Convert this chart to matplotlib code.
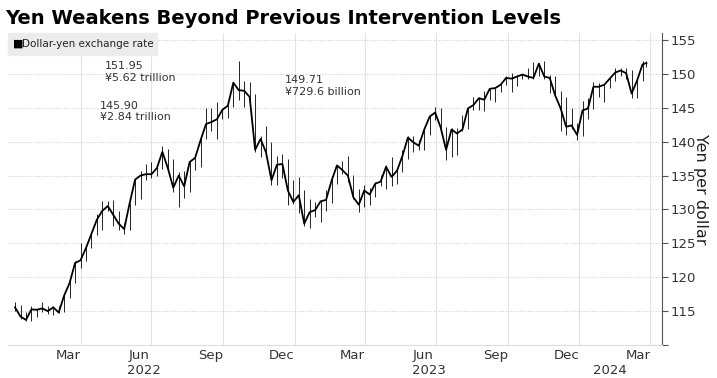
import numpy as np
import pandas as pd
import matplotlib
matplotlib.use("Agg")
import matplotlib.pyplot as plt

# weekly (Friday) USD/JPY readings, Jan 2022 - Mar 2024
dates = list(pd.date_range("2022-01-07", "2024-03-22", freq="W-FRI")) + [pd.Timestamp("2024-03-27")]

close_2022 = [115.55, 114.2, 113.7, 115.25, 115.2, 115.4, 115.0, 115.55, 114.8, 117.3, 119.15, 122.1,
              122.5, 124.3, 126.4, 128.5, 129.8, 130.5, 129.2, 127.9, 127.1, 130.9, 134.4, 135.0,
              135.2, 135.2, 136.1, 138.5, 136.1, 133.2, 135.0, 133.4, 137.0, 137.6, 140.2, 142.6,
              142.9, 143.3, 144.7, 145.3, 148.7, 147.6, 147.5, 146.6, 138.8, 140.4, 138.4, 134.3,
              136.6, 136.7, 132.8, 131.1]
high_2022 = [116.35, 115.9, 114.9, 115.7, 115.3, 116.3, 115.8, 115.75, 115.8, 117.4, 119.4, 122.4,
             125.1, 124.7, 126.7, 129.4, 131.25, 131.3, 131.35, 129.8, 128.0, 130.95, 134.55, 135.6,
             136.7, 137.0, 136.6, 139.4, 138.9, 137.45, 135.5, 135.6, 137.2, 137.7, 140.8, 144.99,
             144.95, 145.9, 144.9, 145.4, 148.85, 151.95, 149.0, 148.85, 147.1, 140.8, 142.25, 139.9,
             137.85, 138.2, 137.5, 134.4]
low_2022 = [115.0, 113.9, 113.6, 113.5, 114.2, 114.9, 114.6, 114.4, 114.65, 114.8, 117.0, 119.1,
            121.3, 122.4, 124.3, 126.3, 126.95, 129.8, 127.5, 127.0, 126.35, 126.9, 130.7, 131.5,
            134.3, 134.6, 134.9, 135.9, 135.6, 132.5, 130.4, 131.7, 132.6, 135.8, 136.3, 140.4,
            141.6, 140.35, 143.3, 143.5, 145.1, 146.2, 145.1, 145.7, 138.5, 137.7, 138.0, 133.6,
            133.6, 134.6, 130.6, 130.8]

close_2023 = [132.1, 127.9, 129.6, 129.9, 131.2, 131.4, 134.2, 136.5, 135.8, 135.0, 131.8, 130.7,
              132.8, 132.2, 133.8, 134.1, 136.3, 134.8, 135.7, 137.9, 140.6, 139.9, 139.4, 141.8,
              143.7, 144.3, 142.1, 138.8, 141.8, 141.2, 141.8, 144.9, 145.4, 146.4, 146.2, 147.8,
              147.9, 148.4, 149.4, 149.3, 149.6, 149.9, 149.6, 149.4, 151.5, 149.6, 149.4, 146.8,
              144.9, 142.2, 142.4, 141.0]
high_2023 = [134.8, 132.9, 131.6, 131.1, 131.2, 132.9, 134.9, 136.5, 137.1, 137.9, 135.1, 133.0,
             133.6, 133.2, 134.0, 135.1, 136.6, 137.8, 135.8, 138.75, 140.9, 140.9, 140.2, 141.9,
             143.9, 145.1, 144.9, 142.1, 141.95, 141.95, 143.9, 145.0, 146.55, 146.6, 147.4, 147.85,
             147.95, 148.45, 149.7, 150.16, 149.8, 150.0, 150.8, 151.7, 151.6, 151.9, 149.8, 149.7,
             147.5, 146.6, 144.95, 142.8]
low_2023 = [129.5, 127.5, 127.2, 128.9, 128.1, 129.8, 130.9, 133.7, 135.3, 134.1, 131.5, 129.65,
            130.4, 130.6, 131.8, 133.5, 133.0, 133.5, 133.75, 135.5, 137.5, 138.4, 138.8, 138.8,
            141.0, 143.2, 142.0, 137.25, 137.7, 138.1, 141.5, 141.8, 144.6, 144.6, 144.45, 146.2,
            145.9, 147.3, 148.3, 147.3, 148.2, 149.2, 149.3, 149.2, 149.7, 149.2, 147.2, 146.7,
            141.6, 140.95, 141.8, 140.25]

close_2024 = [144.6, 144.9, 148.1, 148.1, 148.4, 149.3, 150.2, 150.5, 150.1, 147.1, 149.0, 151.4, 151.6]
high_2024 = [145.98, 146.4, 148.8, 148.7, 148.5, 149.6, 150.9, 150.8, 150.8, 150.5, 149.2, 151.85, 151.97]
low_2024 = [140.8, 143.4, 144.8, 146.6, 145.9, 147.9, 148.9, 149.7, 149.2, 146.5, 146.5, 148.9, 151.0]

close = close_2022 + close_2023 + close_2024
high = high_2022 + high_2023 + high_2024
low = low_2022 + low_2023 + low_2024

# intervention annotations
notes = ["151.95\n¥5.62 trillion", "145.90\n¥2.84 trillion", "149.71\n¥729.6 billion"]
note_pos = [("2022-05-02", 150.3), ("2022-04-26", 144.45), ("2022-12-19", 148.2)]

month_ticks = ["2022-03-16", "2022-06-15", "2022-09-15", "2022-12-15",
               "2023-03-16", "2023-06-15", "2023-09-15", "2023-12-15", "2024-03-16"]
month_labels = ["Mar", "Jun", "Sep", "Dec", "Mar", "Jun", "Sep", "Dec", "Mar"]
year_labels = ["2022", "2023", "2024"]
year_pos = ["2022-06-21", "2023-06-22", "2024-02-09"]

fig = plt.figure(figsize=(7.17, 3.78), dpi=100)
ax = fig.add_axes([0.0112, 0.0873, 0.9121, 0.8254])

ax.vlines(dates, low, high, color="black", linewidth=0.6)
ax.plot(dates, close, color="black", linewidth=1.3)

ax.set_xlim(pd.Timestamp("2021-12-29"), pd.Timestamp("2024-04-16"))
ax.set_ylim(110, 156.03)

# y axis on the right
ax.yaxis.tick_right()
ax.yaxis.set_label_position("right")
ax.set_yticks(np.arange(110, 156, 5))
ax.set_yticklabels([""] + [str(v) for v in range(115, 156, 5)])
ax.tick_params(axis="y", length=4, color="#555555", labelsize=9.5, labelcolor="#333333", pad=2)
ax.set_ylabel("Yen per dollar", rotation=-90, labelpad=9, fontsize=11.5, color="#222222")

# x axis: gridlines at quarter starts, labels mid month
grid_days = pd.date_range("2022-04-01", "2024-04-01", freq="QS")
ax.set_xticks(grid_days)
ax.set_xticklabels([])
ax.tick_params(axis="x", length=0)
ax.set_xticks(pd.to_datetime(month_ticks), minor=True)
ax.set_xticklabels(month_labels, minor=True)
ax.tick_params(axis="x", which="minor", length=0, labelsize=9.5, labelcolor="#333333", pad=3)
for lab, d in zip(year_labels, year_pos):
    ax.text(pd.Timestamp(d), -0.062, lab, transform=ax.get_xaxis_transform(),
            ha="center", va="top", fontsize=9.5, color="#333333")

ax.grid(axis="x", which="major", color="#e3e3e3", linewidth=0.8)
ax.grid(axis="y", color="#d0d0d0", linewidth=0.8, linestyle=(0, (1, 1.5)))

for side in ["top", "left"]:
    ax.spines[side].set_visible(False)
ax.spines["right"].set_color("#555555")
ax.spines["bottom"].set_color("#dddddd")

for txt, (d, v) in zip(notes, note_pos):
    ax.text(pd.Timestamp(d), v, txt, fontsize=8, color="#333333", va="center", ha="left", linespacing=1.2)

# legend box
fig.patches.append(plt.Rectangle((8 / 717, 1 - 55 / 378), 149 / 717, 22 / 378,
                                 transform=fig.transFigure, color="#ececec", zorder=0))
fig.text(13 / 717, 1 - 44 / 378, "■", fontsize=8, va="center", color="black")
fig.text(22 / 717, 1 - 44 / 378, "Dollar-yen exchange rate", fontsize=7.5, va="center", color="#222222")

fig.text(5 / 717, 1 - 18 / 378, "Yen Weakens Beyond Previous Intervention Levels",
         fontsize=14, fontweight="bold", va="center", ha="left", color="black")

fig.savefig("out.png", dpi=100)
